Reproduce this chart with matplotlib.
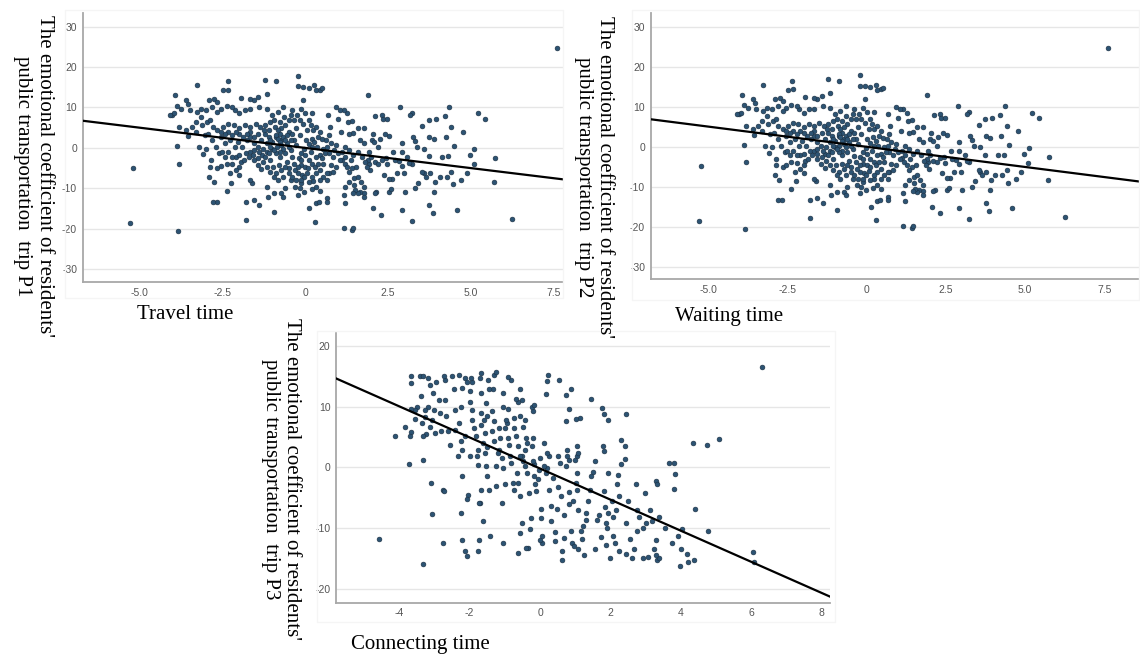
"""
Three scatter panels: emotional coefficient of residents' public transport trips
against travel, waiting and connecting time, each with its fitted line.
"""

import numpy as np
import matplotlib.pyplot as plt
from matplotlib.patches import Rectangle

# ---- data ---------------------------------------------------------------
# P1 and P2 show the same point cloud, so both use travel_points
travel_points = [
    (7.62, 24.7), (-5.28, -18.5), (-5.21, -4.9), (-3.83, -20.7), (6.26, -17.6), (5.72, -8.4),
    (5.74, -2.5), (5.21, 8.5), (5.43, 7.1), (5.11, -0.3), (5.10, -4.1), (4.97, -1.8),
    (4.78, 4.0), (4.88, -6.3), (4.72, -8.0), (4.58, -15.4), (4.50, 0.4), (4.42, 5.2),
    (4.36, 10.1), (4.22, 7.8), (4.25, 2.7), (4.33, -2.1), (4.42, -5.9), (4.47, -9.0),
    (4.06, -7.2), (3.92, -8.4), (3.90, -10.9), (3.86, -16.2), (3.75, -14.1), (3.94, 7.2),
    (3.73, 6.8), (3.75, 2.6), (3.89, 2.1), (3.73, -2.0), (3.53, 5.3), (3.59, -6.3),
    (3.53, -5.9), (3.64, -7.2), (3.42, -8.6), (3.33, -10.0), (3.31, 1.7), (3.22, 8.6),
    (3.18, 8.1), (3.26, 2.7), (3.23, -18.0), (3.22, -3.9), (3.15, -3.7), (2.92, -15.4),
    (2.98, -6.3), (2.92, 1.1), (2.87, 10.1), (3.01, -10.9), (2.92, -4.4), (2.92, -1.0),
    (2.83, -3.3), (2.65, -1.0), (2.54, 2.9), (2.63, -7.8), (2.52, -7.8), (2.54, -10.9),
    (2.59, -10.3), (2.48, -4.0), (2.43, -2.6), (2.32, -2.9), (2.30, -16.6), (2.26, 2.3),
    (2.21, 0.2), (2.15, -10.9), (2.10, -11.1), (2.05, -15.0), (2.12, 7.8), (2.32, 8.1),
    (2.34, 7.2), (2.48, 7.2), (2.40, 3.5), (2.04, 3.5), (2.01, 1.9), (2.08, 1.5),
    (2.10, -3.5), (1.96, -5.5), (1.93, -3.9), (1.90, -3.0), (1.90, 13.0), (1.79, -9.6),
    (1.77, -11.1), (1.77, -12.1), (1.66, -10.9), (1.60, -11.3), (1.52, -10.5), (1.46, -11.1),
    (1.49, -7.6), (1.55, -4.7), (1.42, -5.1), (1.32, -5.9), (1.46, -1.8), (1.60, -1.0),
    (1.66, 1.9), (1.60, 4.8), (1.46, 3.7), (1.42, 6.7), (1.30, 6.4), (1.27, 8.5),
    (1.16, 9.3), (1.05, 9.3), (0.94, 10.0), (0.99, 7.2), (1.08, 4.0), (1.10, -2.9),
    (1.19, -3.9), (1.27, -4.7), (1.21, -9.6), (1.16, -11.7), (1.21, -13.6), (1.16, -19.8),
    (1.42, -20.3), (1.46, -19.8), (0.94, 0.7), (0.83, -2.2), (0.72, -1.4), (0.77, -4.3),
    (0.72, -6.3), (0.66, -8.0), (0.66, -12.5), (0.66, -13.3), (0.29, -18.3), (0.13, -15.0),
    (0.33, -13.7), (0.42, -13.3), (0.44, -10.6), (0.33, -9.6), (0.20, -10.3), (0.24, -8.2),
    (0.44, -5.5), (0.55, -3.9), (0.61, -1.4), (0.44, -1.8), (0.33, -2.2), (0.35, 0.2),
    (0.50, 2.1), (0.64, 1.9), (0.72, 3.1), (0.75, 5.2), (0.68, 8.1), (0.44, 14.4),
    (0.33, 14.2), (0.50, 14.7), (0.28, 15.5), (0.11, 14.9), (-0.06, 15.1), (-0.22, 15.2),
    (-0.22, 17.9), (-0.06, 11.9), (0.00, 8.6), (0.11, 7.0), (0.22, 8.6), (0.24, 4.4),
    (0.20, 2.3), (0.11, 0.9), (0.02, 1.9), (-0.02, -0.4), (-0.11, -1.4), (-0.20, -2.6),
    (-0.13, -4.3), (0.00, -4.7), (0.06, -6.2), (-0.09, -6.7), (-0.22, -6.3), (-0.31, -5.5),
    (-0.33, -3.9), (-0.39, -2.4), (-0.44, -0.6), (-0.28, 0.7), (-0.35, 1.9), (-0.17, 3.1),
    (-0.28, 4.8), (-0.33, 6.8), (-0.13, 9.7), (-0.44, 8.1), (-0.50, 4.0), (-0.55, 1.1),
    (-0.61, -1.4), (-0.55, -3.5), (-0.50, -5.1), (-0.44, -8.0), (-0.31, -9.6), (-0.17, -10.0),
    (-0.11, -8.8), (-0.02, -10.9), (-0.22, -11.7), (-0.66, -7.2), (-0.61, -10.0), (-0.72, -11.3),
    (-0.66, -12.1), (-0.94, -11.3), (-0.94, -15.8), (-1.13, -12.1), (-1.16, -9.6), (-1.38, -14.2),
    (-1.79, -13.3), (-1.79, -17.9), (-1.55, -12.9), (-1.60, -8.6), (-1.66, -8.0), (-1.99, -6.7),
    (-2.23, -8.6), (-2.26, -6.3), (-2.37, -10.6), (-2.67, -13.3), (-2.78, -13.3), (-2.76, -8.4),
    (-2.89, -7.2), (-2.87, -4.7), (-2.85, -3.0), (-2.65, -5.1), (-2.54, -4.5), (-2.59, -1.4),
    (-2.37, -3.9), (-2.21, -4.0), (-2.10, -2.2), (-1.99, -1.8), (-1.93, -3.5), (-1.79, -1.2),
    (-1.66, -1.0), (-1.55, -3.0), (-1.43, -4.3), (-1.32, -5.3), (-1.30, -1.8), (-1.16, -1.0),
    (-1.05, -3.0), (-0.97, -4.7), (-0.88, -6.3), (-0.79, -4.3), (-0.77, -2.2), (-0.86, 0.2),
    (-0.72, 1.9), (-0.77, 3.5), (-0.88, 2.7), (-0.99, 1.5), (-1.10, 2.7), (-1.21, 3.5),
    (-1.32, 1.9), (-1.43, 0.2), (-1.55, 1.1), (-1.66, 2.7), (-1.77, 1.9), (-1.90, 0.2),
    (-2.04, 1.5), (-2.12, 0.2), (-2.26, 1.9), (-2.43, 1.1), (-2.54, 2.7), (-2.70, 0.2),
    (-2.81, 1.9), (-2.98, -0.2), (-3.09, -1.6), (-3.20, 0.2), (-3.04, 3.1), (-2.92, 3.5),
    (-2.65, 4.4), (-2.48, 5.2), (-2.32, 6.0), (-2.15, 5.6), (-1.99, 4.8), (-1.82, 5.6),
    (-1.66, 5.2), (-1.49, 6.0), (-1.35, 5.2), (-1.21, 5.6), (-1.05, 6.4), (-0.91, 5.2),
    (-0.77, 6.4), (-0.64, 7.7), (-0.66, 10.1), (-0.83, 8.9), (-0.99, 8.1), (-1.16, 9.7),
    (-1.38, 10.1), (-1.55, 11.8), (-1.66, 12.2), (-1.41, 12.6), (-1.21, 16.9), (-0.88, 16.5),
    (-1.16, 13.3), (-1.93, 12.4), (-2.12, 9.3), (-1.99, 8.5), (-1.82, 9.3), (-1.66, 9.5),
    (-2.21, 10.1), (-2.37, 10.3), (-2.54, 9.7), (-2.65, 8.9), (-2.81, 10.1), (-2.89, 11.8),
    (-2.74, 12.2), (-2.65, 11.4), (-2.98, 9.3), (-3.15, 9.7), (-3.26, 8.9), (-3.26, 15.5),
    (-2.48, 14.2), (-2.32, 14.4), (-2.34, 16.5), (-3.15, 7.7), (-3.31, 6.4), (-3.48, 9.3),
    (-3.53, 10.9), (-3.59, 11.8), (-3.75, 9.7), (-3.86, 10.3), (-3.92, 13.0), (-4.03, 8.1),
    (-3.97, 8.5), (-4.08, 8.1), (-3.81, 5.2), (-3.59, 4.4), (-3.55, 2.9), (-3.42, 5.2),
    (-3.31, 4.0), (-3.86, 0.4), (-3.81, -3.9), (-3.11, 5.6), (-2.96, 6.4), (-2.78, 5.2),
    (-2.87, 6.8),
    # dense middle
    (-0.88, 3.1), (-0.83, 2.3), (-0.77, 1.5), (-0.72, 0.7), (-0.66, 2.7), (-0.61, 1.9),
    (-0.55, 3.1), (-0.50, 0.2), (-0.44, 1.9), (-0.39, 3.5), (-0.66, -0.2), (-0.77, -1.0),
    (-0.88, -1.4), (-0.99, -0.2), (-1.05, 0.2), (-1.10, -1.4), (-1.21, -2.2), (-1.27, -3.5),
    (-1.16, -4.7), (-1.05, -5.9), (-0.94, -7.2), (-0.83, -8.0), (-0.72, -5.5), (-0.61, -4.7),
    (-0.50, -6.3), (-0.39, -7.2), (-0.28, -8.0), (-0.22, -4.7), (-0.11, -3.0), (0.00, -1.8),
    (0.11, -3.0), (0.22, -3.9), (0.31, -4.7), (0.39, -3.9), (0.50, -2.6), (0.55, -0.2),
    (0.66, 0.2), (0.77, 1.1), (0.88, -0.6), (0.99, -1.4), (1.10, -1.0), (1.21, 0.2),
    (1.32, -0.6), (1.38, -3.0), (1.21, -2.2), (1.05, -3.0), (0.94, -4.7), (0.83, -5.9),
    (0.66, -6.3), (0.55, -7.2), (0.44, -8.0), (0.33, -6.3), (0.22, -7.2), (0.11, -8.4),
    (-0.02, -7.2), (-0.13, -8.0), (0.09, -5.1), (0.17, -1.0), (0.22, 0.2), (0.28, 1.5),
    (0.39, 2.7), (0.44, 4.0), (0.33, 5.2), (0.17, 5.6), (0.06, 4.4), (-0.06, 6.0),
    (-0.17, 6.8), (-0.24, 8.1), (-0.39, 9.3), (-0.50, 6.8), (-0.61, 5.6), (-0.72, 4.8),
    (-0.83, 4.4), (-0.94, 6.8), (-1.08, 4.4), (-1.24, 4.4), (-1.41, 3.5), (-1.55, 2.7),
    (-1.66, 4.0), (-1.77, 3.5), (-1.88, 2.7), (-1.99, 3.5), (-2.10, 4.0), (-2.21, 3.1),
    (-2.32, 4.0), (-2.43, 3.5), (-2.54, 4.0), (-1.55, -0.6), (-1.38, -1.0), (-1.27, -0.2),
    (-1.16, 1.1), (-1.05, 1.9), (-0.94, -0.6), (-1.41, -2.6), (-1.57, -1.8), (-1.71, -2.2),
    (-1.85, -3.0), (-1.99, -4.7), (-2.10, -5.5), (-2.21, -2.2), (-2.32, -1.0), (-2.43, -2.2),
    (-2.52, -1.0),
    # right-hand band
    (1.71, -2.2), (1.82, -3.5), (1.88, -4.7), (1.99, -2.2), (2.21, -3.9), (2.37, -6.7),
    (2.70, -3.0), (2.76, -6.3), (3.09, -2.2), (3.37, 0.2), (3.59, -0.2), (3.77, -6.3),
    (4.14, -2.2), (4.28, -7.2), (1.60, -7.2), (1.68, -8.4), (1.32, -8.4), (1.49, -9.2),
    (1.77, 1.1), (1.93, -1.0), (1.32, 3.5), (1.77, 4.8),
]

connecting_points = [
    (6.30, 16.5), (-4.58, -11.8), (-3.83, 6.7), (-4.11, 5.1), (-3.31, -15.9), (-3.31, 1.2),
    (-3.10, -2.6), (-3.06, -7.6), (6.04, -13.9), (6.07, -15.5), (5.08, 4.7), (4.74, 3.6),
    (4.77, -10.4), (4.35, 4.0), (4.40, -6.8), (4.38, -15.2), (4.20, -15.5), (4.17, -14.2),
    (3.96, -16.3), (4.04, -10.2), (3.91, -11.3), (4.01, -13.4), (3.80, 0.7), (3.65, 0.7),
    (3.83, -1.1), (3.80, -3.5), (3.75, -12.4), (3.54, -10.0), (3.39, -8.1), (3.33, -15.2),
    (3.39, -14.9), (3.28, -14.4), (3.23, -13.5), (3.28, -11.9), (3.28, -2.3), (3.31, -2.7),
    (3.13, -7.0), (3.18, -8.9), (3.02, -9.2), (3.07, -14.7), (2.92, -10.0), (2.97, -4.2),
    (2.92, -14.9), (2.81, -8.1), (2.76, -10.4), (2.76, -7.1), (2.71, -2.8), (2.66, -13.5),
    (2.60, -14.9), (2.55, -11.8), (2.50, -5.6), (2.45, -9.2), (2.45, -14.2), (2.40, 3.5),
    (2.40, 1.3), (2.45, 8.7), (2.29, 0.6), (2.29, 4.5), (2.24, -4.8), (2.21, -1.2),
    (2.19, -2.8), (2.24, -13.8), (2.14, -12.4), (2.08, -11.3), (2.17, -7.0), (2.08, -8.1),
    (2.03, -5.6), (1.98, -14.9), (1.93, -7.5), (1.88, -12.7), (1.90, -10.0), (1.88, -9.2),
    (1.85, -6.5), (1.82, -3.9), (1.93, -1.0), (1.93, 7.8), (1.82, 8.7), (1.77, 9.8),
    (1.82, 2.6), (1.79, 3.5), (1.72, -11.5), (1.67, -7.8), (1.61, -8.6), (1.56, -13.5),
    (1.51, -0.8), (1.46, -1.5), (1.56, 1.0), (1.44, 11.3), (1.43, -3.7), (1.35, -5.6),
    (1.30, -8.6), (1.30, -7.5), (1.25, -14.4), (1.23, -9.6), (1.20, -11.8), (1.15, -10.5),
    (1.09, -13.5), (1.09, -7.0), (1.04, -3.7), (1.02, -2.6), (1.06, -0.9), (1.04, 1.8),
    (1.09, 2.3), (1.06, 3.5), (1.13, 8.1), (1.02, 7.9), (0.99, 1.2), (0.94, -5.6),
    (0.92, -12.4), (0.96, -13.0), (0.89, -10.4), (0.83, -6.1), (0.83, 1.2), (0.81, -4.0),
    (0.78, 1.8), (0.78, 2.9), (0.83, 9.6), (0.89, 12.8), (0.75, 11.9), (0.75, 7.6),
    (0.73, 0.2), (0.68, -7.8), (0.68, -11.7), (0.63, -13.7), (0.63, -15.2), (0.60, -4.8),
    (0.52, -3.2), (0.54, 14.3), (0.57, 0.7), (0.50, 1.8), (0.47, -6.8), (0.42, -10.7),
    (0.42, -12.2), (0.36, -1.8), (0.31, -6.4), (0.31, -8.9), (0.26, -3.7), (0.26, 1.8),
    (0.24, 15.1), (0.19, 14.2), (0.16, 12.1), (0.21, 2.4), (0.21, -0.1), (0.16, -0.9),
    (0.10, 0.2), (0.10, 4.0), (0.05, -12.4), (0.00, -11.9), (0.05, -11.3), (0.02, -8.3),
    (0.02, -6.8), (0.00, 1.5), (-0.02, -0.4), (-0.05, -2.0), (-0.10, -3.9), (-0.13, -2.7),
    (-0.16, -1.5), (-0.18, 0.6), (-0.21, 1.0), (-0.23, 3.5), (-0.21, 4.8), (-0.19, 9.2),
    (-0.23, 10.0), (-0.16, 10.3), (-0.26, -8.3), (-0.29, -10.2), (-0.33, -13.2), (-0.40, -13.3),
    (-0.31, -4.2), (-0.36, -1.0), (-0.42, 0.2), (-0.47, 1.1), (-0.50, 1.8), (-0.44, 2.9),
    (-0.36, 4.0), (-0.40, 4.8), (-0.47, 6.7), (-0.42, 7.8), (-0.57, 8.4), (-0.50, 11.1),
    (-0.57, 12.8), (-0.62, 10.8), (-0.68, 11.3), (-0.73, 8.1), (-0.73, 6.5), (-0.68, 5.1),
    (-0.62, 3.5), (-0.57, 1.8), (-0.65, -1.0), (-0.62, -2.6), (-0.57, -4.8), (-0.52, -9.2),
    (-0.57, -10.8), (-0.62, -14.1), (-0.73, -3.7), (-0.78, -2.6), (-0.83, 0.7), (-0.85, 1.8),
    (-0.89, 3.7), (-0.92, 4.8), (-0.94, 7.3), (-0.96, 7.8), (-0.92, 9.6), (-0.99, 6.5),
    (-0.83, 14.4), (-0.92, 14.8), (-1.04, 10.0), (-1.06, 12.2), (-1.15, 6.5), (-1.13, 4.8),
    (-1.17, 2.9), (-1.09, 1.5), (-1.04, -0.1), (-0.99, -2.8), (-1.04, -12.4), (-1.09, -5.9),
    (-1.20, 2.3), (-1.25, -3.1), (-1.25, 0.2), (-1.30, 4.3), (-1.35, 5.9), (-1.30, 7.6),
    (-1.35, 9.2), (-1.33, 12.9), (-1.30, 15.2), (-1.25, 15.6), (-1.41, -11.3), (-1.46, -3.7),
    (-1.51, -1.5), (-1.54, 0.2), (-1.56, 2.4), (-1.51, 3.3), (-1.61, 4.0), (-1.56, 5.6),
    (-1.58, 7.8), (-1.51, 8.5), (-1.67, 7.0), (-1.54, 10.6), (-1.46, 12.9), (-1.48, 14.4),
    (-1.67, 8.9), (-1.67, 12.2), (-1.69, 14.7), (-1.67, 15.5), (-1.61, -8.9), (-1.67, -3.7),
    (-1.69, -5.9), (-1.72, -11.9), (-1.72, -5.9), (-1.77, 0.4), (-1.79, 1.8), (-1.77, 2.9),
    (-1.82, 5.1), (-1.87, 6.5), (-1.93, 7.8), (-1.93, 9.5), (-2.00, 10.8), (-1.98, 12.6),
    (-1.93, 14.1), (-1.96, 14.7), (-2.00, 1.8), (-2.03, -4.5), (-2.08, -5.2), (-1.77, -13.8),
    (-2.08, -14.6), (-2.14, -13.8), (-2.21, -11.9), (-2.24, -7.5), (-2.21, -1.5), (-2.21, 2.9),
    (-2.24, 4.3), (-2.14, 5.1), (-2.29, 7.3), (-2.24, 10.0), (-2.21, 13.0), (-2.14, 14.7),
    (-2.08, 14.1), (-2.29, 15.2), (-2.34, 1.8), (-2.40, 6.2), (-2.42, 9.4), (-2.45, 12.8),
    (-2.50, 15.0), (-2.55, 3.7), (-2.60, 5.9), (-2.66, 8.4), (-2.69, 11.1), (-2.71, 14.4),
    (-2.73, 15.0), (-2.76, -3.7), (-2.73, -3.9), (-2.76, -12.4), (-2.81, 5.9), (-2.83, 8.9),
    (-2.86, 11.1), (-2.94, 14.1), (-2.97, 5.6), (-3.00, 9.5), (-3.04, 12.2), (-3.07, 7.8),
    (-3.13, 6.7), (-3.18, 10.0), (-3.23, 5.4), (-3.25, 8.3), (-3.27, 9.5), (-3.33, 5.1),
    (-3.35, 7.3), (-3.38, 11.8), (-3.42, 15.0), (-3.33, 15.0), (-3.18, 14.7), (-3.13, 13.6),
    (-3.49, 10.0), (-3.54, 7.9), (-3.56, 9.5), (-3.65, 9.6), (-3.65, 5.8), (-3.70, 5.1),
    (-3.73, 0.6), (-3.67, 13.9), (-3.65, 15.0),
]

# fitted lines: (intercept, slope)
travel_fit = (-0.02, -1.00)
waiting_fit = (-0.02, -1.01)
connecting_fit = (-0.20, -2.56)

p12_xticks = [-5.0, -2.5, 0, 2.5, 5.0, 7.5]
p12_xticklabels = ["-5.0", "-2.5", "0", "2.5", "5.0", "7.5"]
p12_yticks = [-30, -20, -10, 0, 10, 20, 30]
p3_xticks = [-4, -2, 0, 2, 4, 6, 8]
p3_yticks = [-20, -10, 0, 10, 20]

ylabel_line1 = "The emotional coefficient of residents'"
ylabel_line2 = "public transportation  trip "

W, H = 1140, 657
fig = plt.figure(figsize=(W / 100, H / 100), dpi=100)
fig.patch.set_facecolor("white")

DOT = "#2c5373"
DOT_EDGE = "#1a2e40"
SERIF = ["Liberation Serif", "DejaVu Serif"]


def px_rect(left, top, right, bottom):
    """pixel box (from the top-left) -> figure fraction rect"""
    return [left / W, 1 - bottom / H, (right - left) / W, (bottom - top) / H]


def frame(left, top, right, bottom):
    # faint SPSS chart frame
    fig.patches.append(Rectangle((left / W, 1 - bottom / H), (right - left) / W, (bottom - top) / H,
                                 transform=fig.transFigure, facecolor="none",
                                 edgecolor="#f5f5f5", lw=1.0, zorder=0))


def panel(rect, pts, fit, xlim, ylim, xticks, xticklabels, yticks):
    ax = fig.add_axes(rect)
    ax.set_facecolor("none")
    pts = np.array(pts)
    ax.scatter(pts[:, 0], pts[:, 1], s=12, facecolor=DOT, edgecolor=DOT_EDGE,
               linewidths=0.4, zorder=3)
    xs = np.array(xlim)
    ax.plot(xs, fit[0] + fit[1] * xs, color="black", lw=1.6, zorder=4)
    ax.set_xlim(xlim)
    ax.set_ylim(ylim)
    ax.set_xticks(xticks)
    ax.set_xticklabels(xticklabels)
    ax.set_yticks(yticks)
    ax.set_yticklabels([str(v) for v in yticks])
    ax.grid(axis="y", color="#e6e6e6", lw=1.0, zorder=1)
    ax.set_axisbelow(True)
    for side in ("top", "right"):
        ax.spines[side].set_visible(False)
    for side in ("left", "bottom"):
        ax.spines[side].set_color("#a8a8a8")
        ax.spines[side].set_linewidth(1.3)
    ax.tick_params(length=0, labelsize=7.5, labelcolor="#555555", pad=4)
    for lab in ax.get_xticklabels() + ax.get_yticklabels():
        lab.set_fontfamily(["Liberation Sans", "DejaVu Sans"])
    return ax


# P1 - travel time
frame(65, 10, 563, 298)
panel(px_rect(82.7, 13.3, 563, 282.3), travel_points, travel_fit,
      (-6.72, 7.79), (-33.3, 33.3), p12_xticks, p12_xticklabels, p12_yticks)

# P2 - waiting time (same points as P1)
frame(632, 10, 1139, 300)
panel(px_rect(650.7, 13.3, 1140, 279.3), travel_points, waiting_fit,
      (-6.81, 8.62), (-33.15, 33.35), p12_xticks, p12_xticklabels, p12_yticks)

# P3 - connecting time
frame(317, 331, 835, 622)
panel(px_rect(336, 333, 830, 602.7), connecting_points, connecting_fit,
      (-5.79, 8.23), (-22.27, 22.09), p3_xticks, [str(v) for v in p3_xticks], p3_yticks)

# axis titles in serif, y titles read top to bottom
for cx, cy, tag in [(33.5, 176, "P1"), (594, 177, "P2"), (281, 479, "P3")]:
    fig.text(cx / W, 1 - cy / H, ylabel_line1 + "\n" + ylabel_line2 + tag,
             rotation=270, ha="center", va="center", multialignment="center",
             family=SERIF, fontsize=15, linespacing=1.2)

for cx, cy, label in [(185.5, 315, "Travel time"), (729, 316, "Waiting time"),
                      (420, 645, "Connecting time")]:
    fig.text(cx / W, 1 - cy / H, label, ha="center", va="center",
             family=SERIF, fontsize=15)

fig.savefig("out.png", dpi=100, facecolor="white")
